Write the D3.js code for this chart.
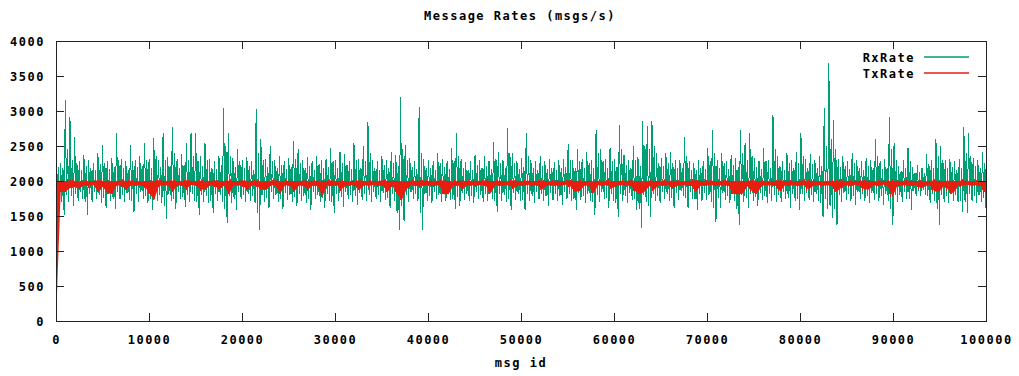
<!DOCTYPE html>
<html>
<head>
<meta charset="utf-8">
<script src="https://cdn.jsdelivr.net/npm/d3@7"></script>
<style>
  body { margin: 0; background: #fff; }
  svg text { font-family: "DejaVu Sans Mono", "Liberation Mono", monospace; font-weight: bold; font-size: 12px; letter-spacing: 1.5px; fill: #000; }
</style>
</head>
<body>
<svg id="chart" width="1019" height="376"></svg>
<script>
// RxRate: four readings per 500-msg bin (peak, 2nd low, 2nd high, trough)
const rxMax = [
  2300, 2250, 3157, 2914, 2633, 2280, 2371, 2300, 2260, 2400,
  2514, 2290, 2330, 2690, 2310, 2280, 2514, 2300, 2350, 2540,
  2320, 2614, 2300, 2686, 2340, 2776, 2310, 2380, 2540, 2686,
  2686, 2360, 2540, 2310, 2290, 2350, 3048, 2686, 2330, 2450,
  2300, 2340, 2280, 3028, 2600, 2320, 2500, 2300, 2350, 2290,
  2330, 2570, 2450, 2300, 2340, 2280, 2360, 2300, 2320, 2470,
  2300, 2420, 2380, 2290, 2540, 2310, 2500, 2848, 2300, 2280,
  2350, 2300, 2420, 2370, 3205, 2514, 2330, 2290, 3057, 2310,
  2300, 2280, 2400, 2320, 2290, 2470, 2690, 2310, 2270, 2280,
  2370, 2300, 2350, 2290, 2550, 2420, 2300, 2757, 2400, 2290,
  2330, 2690, 2300, 2280, 2350, 2290, 2310, 2270, 2300, 2320,
  2530, 2300, 2450, 2310, 2420, 2300, 2729, 2450, 2310, 2470,
  2320, 2800, 2370, 2300, 2500, 2340, 2850, 2780, 2850, 2400,
  2330, 2400, 2420, 2300, 2300, 2633, 2280, 2250, 2300, 2290,
  2470, 2729, 2300, 2400, 2290, 2370, 2330, 2729, 2540, 2686,
  2330, 2290, 2470, 2300, 2943, 2350, 2280, 2400, 2300, 2420,
  2686, 2310, 2390, 2300, 2350, 3043, 3690, 2871, 2320, 2350,
  2290, 2400, 2300, 2280, 2330, 2300, 2600, 2290, 2310, 2919,
  2540, 2220, 2300, 2470, 2200, 2230, 2190, 2380, 2300, 2600,
  2500, 2300, 2320, 2280, 2310, 2776, 2686, 2330, 2300, 2420
];
const rxLo2 = [
  1850, 1700, 1800, 1780, 1820, 1840, 1700, 1810, 1850, 1800,
  1760, 1820, 1750, 1840, 1800, 1830, 1720, 1810, 1850, 1790,
  1740, 1820, 1800, 1650, 1810, 1750, 1840, 1770, 1800, 1820,
  1700, 1800, 1790, 1720, 1820, 1800, 1600, 1790, 1740, 1840,
  1800, 1820, 1790, 1550, 1800, 1760, 1840, 1800, 1750, 1830,
  1800, 1770, 1820, 1790, 1740, 1840, 1800, 1760, 1810, 1700,
  1820, 1770, 1840, 1800, 1790, 1830, 1820, 1800, 1840, 1800,
  1830, 1760, 1810, 1550, 1650, 1800, 1840, 1820, 1550, 1810,
  1790, 1840, 1800, 1820, 1830, 1750, 1770, 1830, 1820, 1790,
  1840, 1800, 1820, 1840, 1720, 1820, 1800, 1740, 1830, 1820,
  1730, 1810, 1790, 1840, 1820, 1780, 1830, 1820, 1790, 1840,
  1820, 1740, 1830, 1790, 1820, 1700, 1800, 1840, 1760, 1820,
  1680, 1810, 1790, 1830, 1740, 1600, 1800, 1650, 1820, 1790,
  1840, 1820, 1760, 1830, 1860, 1760, 1840, 1740, 1820, 1830,
  1800, 1620, 1760, 1830, 1790, 1820, 1600, 1800, 1760, 1820,
  1770, 1830, 1790, 1820, 1800, 1800, 1840, 1760, 1820, 1740,
  1820, 1830, 1800, 1820, 1680, 1740, 1650, 1600, 1800, 1830,
  1820, 1780, 1840, 1820, 1790, 1830, 1810, 1780, 1820, 1600,
  1800, 1800, 1840, 1740, 1860, 1860, 1870, 1790, 1820, 1600,
  1800, 1790, 1820, 1800, 1720, 1700, 1820, 1790, 1800, 1760
];
const rxHi2 = [
  2200, 2180, 2450, 2300, 2250, 2150, 2220, 2180, 2160, 2240,
  2260, 2170, 2200, 2300, 2190, 2160, 2280, 2200, 2210, 2300,
  2180, 2350, 2200, 2300, 2220, 2400, 2190, 2230, 2300, 2350,
  2280, 2220, 2300, 2190, 2170, 2230, 2500, 2350, 2200, 2280,
  2180, 2220, 2160, 2400, 2300, 2200, 2280, 2180, 2230, 2170,
  2200, 2320, 2260, 2180, 2220, 2160, 2240, 2180, 2200, 2280,
  2180, 2260, 2230, 2170, 2300, 2190, 2280, 2400, 2180, 2160,
  2230, 2180, 2260, 2220, 2450, 2300, 2200, 2170, 2400, 2190,
  2180, 2160, 2250, 2200, 2170, 2280, 2350, 2190, 2150, 2160,
  2230, 2180, 2220, 2170, 2320, 2260, 2180, 2400, 2250, 2170,
  2200, 2350, 2180, 2160, 2220, 2170, 2190, 2150, 2180, 2200,
  2300, 2180, 2280, 2190, 2260, 2180, 2400, 2280, 2190, 2280,
  2200, 2450, 2230, 2180, 2300, 2220, 2500, 2450, 2500, 2260,
  2210, 2250, 2260, 2180, 2180, 2350, 2160, 2150, 2180, 2170,
  2280, 2400, 2180, 2250, 2170, 2230, 2200, 2400, 2300, 2350,
  2200, 2170, 2280, 2180, 2450, 2220, 2160, 2250, 2180, 2260,
  2350, 2190, 2240, 2180, 2220, 2500, 2600, 2450, 2200, 2220,
  2170, 2250, 2180, 2160, 2210, 2180, 2350, 2170, 2190, 2450,
  2300, 2140, 2180, 2280, 2120, 2130, 2110, 2240, 2180, 2350,
  2300, 2180, 2200, 2160, 2190, 2400, 2350, 2210, 2180, 2260
];
const rxMin = [
  1780, 1514, 1700, 1650, 1720, 1740, 1514, 1700, 1750, 1690,
  1620, 1720, 1600, 1740, 1700, 1730, 1562, 1700, 1750, 1680,
  1590, 1720, 1690, 1457, 1710, 1600, 1740, 1630, 1700, 1720,
  1514, 1700, 1680, 1540, 1720, 1700, 1400, 1690, 1590, 1740,
  1700, 1720, 1690, 1300, 1700, 1620, 1740, 1700, 1600, 1730,
  1700, 1640, 1720, 1690, 1590, 1740, 1700, 1620, 1710, 1540,
  1720, 1633, 1740, 1700, 1660, 1730, 1720, 1700, 1740, 1700,
  1730, 1620, 1710, 1300, 1430, 1700, 1740, 1720, 1300, 1710,
  1680, 1740, 1700, 1720, 1730, 1600, 1640, 1730, 1720, 1680,
  1740, 1700, 1720, 1740, 1562, 1720, 1700, 1590, 1730, 1720,
  1580, 1710, 1680, 1740, 1720, 1650, 1730, 1720, 1660, 1740,
  1720, 1590, 1730, 1680, 1720, 1514, 1700, 1740, 1620, 1720,
  1490, 1710, 1680, 1730, 1590, 1328, 1700, 1480, 1720, 1680,
  1740, 1720, 1620, 1730, 1780, 1620, 1740, 1590, 1720, 1730,
  1700, 1419, 1610, 1730, 1680, 1720, 1371, 1700, 1610, 1720,
  1640, 1730, 1680, 1720, 1700, 1700, 1740, 1610, 1720, 1590,
  1720, 1730, 1700, 1720, 1490, 1600, 1470, 1371, 1700, 1730,
  1720, 1660, 1740, 1720, 1680, 1730, 1710, 1660, 1720, 1371,
  1700, 1700, 1740, 1590, 1780, 1780, 1800, 1680, 1720, 1371,
  1700, 1680, 1720, 1700, 1560, 1550, 1720, 1680, 1700, 1620
];
// TxRate: trough and top of each 500-msg bin
const txMin = [
  0, 1847, 1847, 1900, 1930, 1890, 1940, 1920, 1945, 1847,
  1930, 1820, 1820, 1940, 1930, 1880, 1945, 1930, 1940, 1920,
  1820, 1729, 1930, 1940, 1935, 1850, 1940, 1930, 1900, 1945,
  1930, 1880, 1880, 1940, 1930, 1880, 1940, 1810, 1935, 1940,
  1930, 1880, 1940, 1930, 1880, 1880, 1945, 1930, 1820, 1940,
  1935, 1850, 1940, 1930, 1880, 1945, 1930, 1776, 1940, 1930,
  1945, 1880, 1930, 1940, 1935, 1880, 1940, 1930, 1945, 1930,
  1940, 1850, 1930, 1820, 1729, 1880, 1940, 1930, 1920, 1940,
  1935, 1930, 1940, 1810, 1810, 1930, 1940, 1880, 1935, 1940,
  1930, 1945, 1930, 1820, 1940, 1930, 1940, 1935, 1900, 1940,
  1930, 1945, 1930, 1940, 1880, 1930, 1940, 1935, 1930, 1945,
  1930, 1850, 1850, 1940, 1930, 1820, 1940, 1930, 1945, 1900,
  1930, 1940, 1935, 1930, 1850, 1810, 1850, 1930, 1880, 1940,
  1930, 1945, 1900, 1930, 1940, 1935, 1930, 1850, 1940, 1930,
  1945, 1930, 1940, 1935, 1930, 1810, 1810, 1820, 1930, 1850,
  1810, 1930, 1940, 1935, 1930, 1850, 1940, 1930, 1945, 1930,
  1940, 1880, 1930, 1945, 1930, 1940, 1930, 1850, 1900, 1940,
  1930, 1945, 1930, 1880, 1880, 1940, 1930, 1945, 1930, 1776,
  1930, 1940, 1935, 1930, 1940, 1900, 1930, 1940, 1850, 1850,
  1930, 1880, 1820, 1940, 1930, 1945, 1930, 1940, 1930, 1820
];
const txMax = [
  2000, 2005, 2000, 2010, 2000, 1995, 2005, 2000, 2000, 2010,
  2000, 2005, 1995, 2000, 2010, 2000, 2005, 2000, 1995, 2000,
  2005, 2000, 2010, 2000, 2000, 2005, 1995, 2000, 2010, 2000,
  2000, 2005, 2000, 2000, 2010, 1995, 2000, 2005, 2000, 2000,
  2010, 2000, 2005, 2000, 1995, 2000, 2005, 2010, 2000, 2000,
  2005, 2000, 1995, 2010, 2000, 2000, 2005, 2000, 2000, 2010,
  2000, 2005, 2000, 1995, 2000, 2010, 2000, 2005, 2000, 2000,
  2010, 2000, 2005, 2000, 1995, 2000, 2005, 2000, 2010, 2000,
  2000, 2005, 2000, 2010, 2000, 1995, 2000, 2005, 2000, 2000,
  2005, 2000, 2010, 2000, 2000, 2005, 1995, 2000, 2010, 2000,
  2000, 2005, 2000, 2000, 2010, 2000, 1995, 2005, 2000, 2000,
  2010, 2000, 2005, 2000, 2000, 1995, 2005, 2000, 2010, 2000,
  2000, 2005, 2000, 2010, 2000, 1995, 2000, 2005, 2000, 2000,
  2010, 2000, 2005, 2000, 1995, 2000, 2005, 2010, 2000, 2000,
  2005, 2000, 1995, 2010, 2000, 2000, 2005, 2000, 2000, 2010,
  2000, 2005, 2000, 1995, 2000, 2010, 2000, 2005, 2000, 2000,
  2010, 2000, 2005, 2000, 1995, 2000, 2005, 2000, 2010, 2000,
  2000, 2005, 2000, 2010, 2000, 1995, 2000, 2005, 2000, 2000,
  2005, 2000, 2010, 2000, 2000, 2005, 1995, 2000, 2010, 2000,
  2000, 2005, 2000, 2000, 2010, 2000, 1995, 2005, 2000, 2000
];
const xTicks = [0, 10000, 20000, 30000, 40000, 50000, 60000, 70000, 80000, 90000, 100000];
const yTicks = [0, 500, 1000, 1500, 2000, 2500, 3000, 3500, 4000];
const seriesNames = ['RxRate', 'TxRate'];
const colors = ['#009e73', '#e51e10'];

const svg = d3.select('#chart');
const margin = { top: 41, right: 33, bottom: 55, left: 56 };
const width = 1019 - margin.left - margin.right;
const height = 376 - margin.top - margin.bottom;

const x = d3.scaleLinear().domain([0, 100000]).range([0, width]);
const y = d3.scaleLinear().domain([0, 4000]).range([height, 0]);

const g = svg.append('g').attr('transform', `translate(${margin.left},${margin.top})`);

svg.append('defs').append('clipPath').attr('id', 'plot-clip')
  .append('rect').attr('width', width).attr('height', height);

// interleave the readings of each bin, spread evenly over the msg id range
function toPoints(...cols) {
  const k = cols.length;
  const n = cols[0].length * k;
  const pts = [];
  cols[0].forEach((_, i) => {
    cols.forEach((col, j) => pts.push([(i * k + j) * 100000 / (n - 1), col[i]]));
  });
  return pts;
}

const line = d3.line().x(d => x(d[0])).y(d => y(d[1]));
const plot = g.append('g').attr('clip-path', 'url(#plot-clip)');

plot.append('path')
  .datum(toPoints(rxMax, rxLo2, rxHi2, rxMin))
  .attr('fill', 'none')
  .attr('stroke', colors[0])
  .attr('stroke-width', 1)
  .attr('shape-rendering', 'crispEdges')
  .attr('d', line);

// tx: filled band between trough and top of each bin, plus the raw zigzag on top
const txBins = txMin.map((v, i) => ({ id: i * 100000 / (txMin.length - 1), lo: v, hi: txMax[i] }));
plot.append('path')
  .datum(txBins)
  .attr('fill', colors[1])
  .attr('stroke', 'none')
  .attr('d', d3.area().x(d => x(d.id)).y0(d => y(d.lo)).y1(d => y(d.hi)));

plot.append('path')
  .datum(toPoints(txMin, txMax))
  .attr('fill', 'none')
  .attr('stroke', colors[1])
  .attr('stroke-width', 1)
  .attr('shape-rendering', 'crispEdges')
  .attr('d', line);

// axes, ticks pointing inward on all four sides
const tickLen = -8;
g.append('g').attr('transform', `translate(0,${height})`)
  .call(d3.axisBottom(x).tickValues(xTicks).tickSize(tickLen).tickPadding(14).tickFormat(d3.format('d')));
const yAxis = g.append('g')
  .call(d3.axisLeft(y).tickValues(yTicks).tickSize(tickLen).tickPadding(11).tickFormat(d3.format('d')));
g.append('g')
  .call(d3.axisTop(x).tickValues(xTicks).tickSize(tickLen).tickFormat(''));
g.append('g').attr('transform', `translate(${width},0)`)
  .call(d3.axisRight(y).tickValues(yTicks).tickSize(tickLen).tickFormat(''));

g.selectAll('.domain').remove();
g.selectAll('.tick line').attr('stroke', '#222').attr('shape-rendering', 'crispEdges');
g.selectAll('.tick text').attr('font-family', null).attr('font-size', null);
yAxis.selectAll('.tick text').attr('dy', '0.38em');

g.append('rect')
  .attr('width', width).attr('height', height)
  .attr('fill', 'none').attr('stroke', '#222')
  .attr('shape-rendering', 'crispEdges');

// titles
svg.append('text').attr('x', 520).attr('y', 20).attr('text-anchor', 'middle').text('Message Rates (msgs/s)');
svg.append('text').attr('x', 521).attr('y', 367).attr('text-anchor', 'middle').text('msg id');

// legend
const legend = svg.append('g').attr('transform', 'translate(915,57)');
seriesNames.forEach((name, i) => {
  const row = legend.append('g').attr('transform', `translate(0,${i * 16})`);
  row.append('text').attr('x', 0).attr('dy', '0.38em').attr('text-anchor', 'end').text(name);
  row.append('line').attr('x1', 9).attr('x2', 54).attr('stroke', colors[i]).attr('stroke-width', 1.5);
});
</script>
</body>
</html>
